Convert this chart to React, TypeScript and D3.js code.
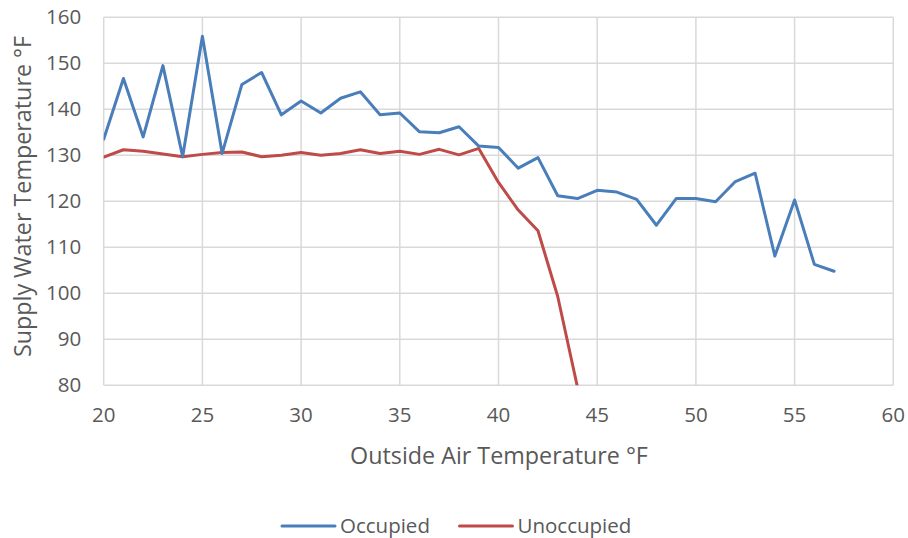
import React from "react";
import * as d3 from "d3";

// Outside air temperature (°F) for each reading
const outsideTemps = [20, 21, 22, 23, 24, 25, 26, 27, 28, 29, 30, 31, 32, 33, 34, 35, 36, 37, 38, 39, 40, 41, 42, 43, 44, 45, 46, 47, 48, 49, 50, 51, 52, 53, 54, 55, 56, 57];

// Supply water temperature (°F), occupied mode
const occupied = [133.5, 146.7, 134.0, 149.5, 129.7, 155.9, 130.4, 145.4, 148.0, 138.8, 141.8, 139.2, 142.4, 143.8, 138.8, 139.2, 135.1, 134.9, 136.2, 132.0, 131.7, 127.2, 129.5, 121.2, 120.6, 122.4, 122.0, 120.4, 114.8, 120.6, 120.6, 119.9, 124.3, 126.1, 108.1, 120.3, 106.3, 104.8];

// Supply water temperature (°F), unoccupied mode
const unoccupiedTemps = [20, 21, 22, 23, 24, 25, 26, 27, 28, 29, 30, 31, 32, 33, 34, 35, 36, 37, 38, 39, 40, 41, 42, 43, 44];
const unoccupied = [129.6, 131.2, 130.9, 130.3, 129.7, 130.2, 130.6, 130.7, 129.7, 130.0, 130.6, 130.0, 130.4, 131.2, 130.4, 130.9, 130.2, 131.3, 130.1, 131.5, 124.1, 118.1, 113.6, 99.3, 79.6];

const xTicks = [20, 25, 30, 35, 40, 45, 50, 55, 60];
const yTicks = [80, 90, 100, 110, 120, 130, 140, 150, 160];

const seriesNames = ["Occupied", "Unoccupied"];
const seriesColors = ["#4a7ebb", "#be4b48"];

const W = 908;
const H = 538;
const plot = { left: 103.7, right: 893.3, top: 17.3, bottom: 385.3 };
const FONT = "'Open Sans', 'Noto Sans', sans-serif";
const TEXT = "#595959";
const GRID = "#d9d9d9";

export default function App() {
  const x = d3.scaleLinear().domain([20, 60]).range([plot.left, plot.right]);
  const y = d3.scaleLinear().domain([80, 160]).range([plot.bottom, plot.top]);

  const line = d3
    .line<[number, number]>()
    .x((d) => x(d[0]))
    .y((d) => y(d[1]));

  const occPts: [number, number][] = outsideTemps.map((t, i) => [t, occupied[i]]);
  const unoccPts: [number, number][] = unoccupiedTemps.map((t, i) => [t, unoccupied[i]]);

  const legendY = 526;
  const legendItems = [
    { x: 282, name: seriesNames[0], color: seriesColors[0] },
    { x: 459.5, name: seriesNames[1], color: seriesColors[1] },
  ];

  return (
    <svg
      width={W}
      height={H}
      style={{ position: "absolute", left: 0, top: 0, background: "#fff" }}
      fontFamily={FONT}
    >
      <defs>
        <clipPath id="plot-clip">
          <rect x={plot.left} y={plot.top - 3} width={plot.right - plot.left} height={plot.bottom - plot.top + 3} />
        </clipPath>
      </defs>

      {/* gridlines */}
      {yTicks.map((t) => (
        <line key={"gy" + t} x1={plot.left} x2={plot.right} y1={y(t)} y2={y(t)} stroke={GRID} strokeWidth={1.5} />
      ))}
      {xTicks.map((t) => (
        <line key={"gx" + t} x1={x(t)} x2={x(t)} y1={plot.top} y2={plot.bottom} stroke={GRID} strokeWidth={1.5} />
      ))}

      {/* tick labels */}
      {yTicks.map((t) => (
        <text key={"ly" + t} x={plot.left - 22.5} y={y(t)} dy="0.35em" textAnchor="end" fontSize={20.5} fill={TEXT}>
          {t}
        </text>
      ))}
      {xTicks.map((t) => (
        <text key={"lx" + t} x={x(t)} y={plot.bottom + 29.5} dy="0.35em" textAnchor="middle" fontSize={20.5} fill={TEXT}>
          {t}
        </text>
      ))}

      {/* axis titles */}
      <text x={499} y={456} dy="0.35em" textAnchor="middle" fontSize={23.3} fill={TEXT}>
        Outside Air Temperature °F
      </text>
      <text
        transform={`translate(23,196.5) rotate(-90)`}
        dy="0.35em"
        textAnchor="middle"
        fontSize={23.3}
        fill={TEXT}
      >
        Supply Water Temperature °F
      </text>

      {/* series */}
      <g clipPath="url(#plot-clip)">
        <path d={line(unoccPts) ?? ""} fill="none" stroke={seriesColors[1]} strokeWidth={3} strokeLinejoin="round" strokeLinecap="round" />
        <path d={line(occPts) ?? ""} fill="none" stroke={seriesColors[0]} strokeWidth={3} strokeLinejoin="round" strokeLinecap="round" />
      </g>

      {/* legend */}
      {legendItems.map((it) => (
        <g key={it.name}>
          <line x1={it.x} x2={it.x + 53} y1={legendY} y2={legendY} stroke={it.color} strokeWidth={3} strokeLinecap="round" />
          <text x={it.x + 58} y={legendY} dy="0.35em" fontSize={20.5} fill={TEXT}>
            {it.name}
          </text>
        </g>
      ))}
    </svg>
  );
}
